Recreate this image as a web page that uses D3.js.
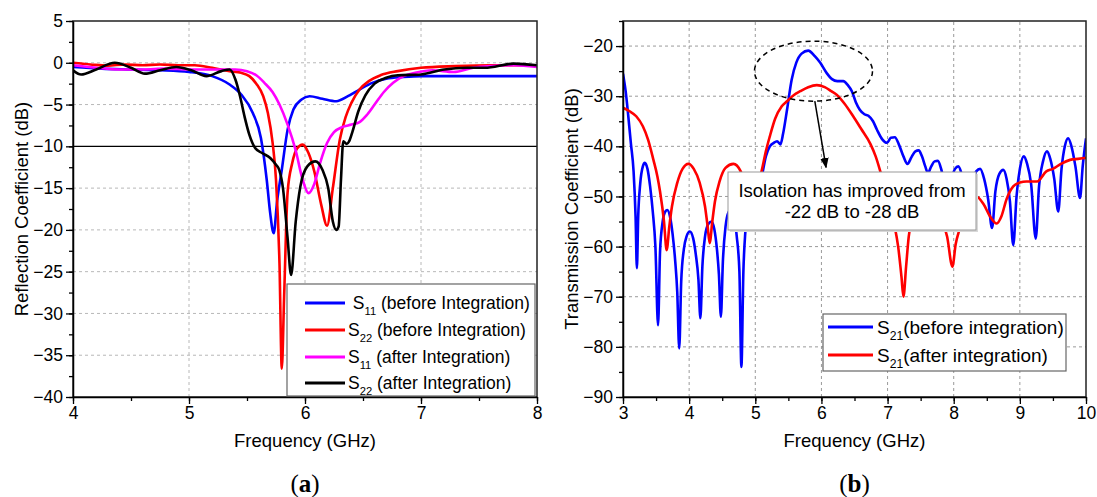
<!DOCTYPE html>
<html>
<head>
<meta charset="utf-8">
<script src="https://cdn.jsdelivr.net/npm/d3@7"></script>
<style>
  body { margin: 0; background: #fff; }
  svg { display: block; }
  text { font-family: Arial, "Liberation Sans", sans-serif; fill: #000; }
  text.panel-letter { font-family: "Liberation Serif", "DejaVu Serif", serif; }
</style>
</head>
<body>
<svg id="chart" width="1097" height="497"></svg>
<script>
// ---------- (a) reflection coefficients, [GHz, dB] ----------
const s11Before = [[4.0,-0.5],[4.25,-0.7],[4.5,-0.8],[4.75,-0.9],[5.0,-1.1],[5.2,-1.6],[5.35,-2.6],[5.45,-3.8],[5.55,-6.0],[5.62,-9.0],[5.67,-14],[5.70,-18],[5.73,-20.4],[5.76,-16.5],[5.80,-12.8],[5.85,-8.0],[5.90,-5.6],[5.97,-4.4],[6.04,-4.0],[6.15,-4.3],[6.27,-4.6],[6.37,-4.0],[6.47,-3.2],[6.58,-2.4],[6.7,-1.9],[6.85,-1.7],[7.0,-1.6],[7.5,-1.6],[8.0,-1.6]];
const s22Before = [[4.0,0.0],[4.15,-0.2],[4.3,-0.35],[4.45,-0.2],[4.6,-0.3],[4.75,-0.2],[4.9,-0.3],[5.05,-0.3],[5.2,-0.6],[5.35,-1.0],[5.45,-1.2],[5.52,-1.6],[5.58,-2.5],[5.64,-4.0],[5.68,-6.0],[5.72,-9.5],[5.75,-14],[5.78,-24],[5.80,-36.6],[5.82,-28],[5.85,-15.5],[5.89,-12],[5.93,-10.3],[5.98,-9.8],[6.03,-10.8],[6.08,-13],[6.14,-17],[6.19,-19.5],[6.24,-15],[6.30,-9.2],[6.35,-6.5],[6.40,-4.8],[6.47,-3.2],[6.55,-2.2],[6.65,-1.5],[6.8,-1.0],[7.0,-0.6],[7.3,-0.4],[7.6,-0.3],[8.0,-0.3]];
const s11After = [[4.0,-0.3],[4.2,-0.6],[4.4,-0.8],[4.6,-0.8],[4.8,-0.7],[5.0,-0.8],[5.2,-0.8],[5.4,-0.8],[5.5,-1.0],[5.58,-1.5],[5.65,-2.4],[5.72,-3.5],[5.78,-5.0],[5.85,-7.4],[5.92,-10.5],[5.98,-14],[6.03,-15.6],[6.08,-14.5],[6.13,-12],[6.19,-9.6],[6.25,-8.3],[6.32,-7.7],[6.40,-7.4],[6.47,-7.1],[6.53,-6.3],[6.60,-5.0],[6.68,-3.5],[6.76,-2.4],[6.85,-1.6],[6.95,-1.2],[7.1,-0.9],[7.28,-1.1],[7.45,-0.6],[7.6,-0.4],[7.8,-0.3],[8.0,-0.5]];
const s22After = [[4.0,-0.9],[4.07,-1.4],[4.2,-0.8],[4.36,0.0],[4.5,-0.6],[4.62,-1.3],[4.75,-0.9],[4.89,-0.5],[5.02,-0.9],[5.15,-1.6],[5.28,-1.0],[5.35,-0.8],[5.40,-2.0],[5.44,-4.0],[5.48,-6.5],[5.52,-8.6],[5.57,-10.2],[5.63,-10.8],[5.70,-11.4],[5.75,-12.2],[5.78,-12.9],[5.81,-15],[5.85,-21],[5.88,-25.4],[5.92,-19],[5.96,-14.8],[6.02,-12.4],[6.09,-11.8],[6.15,-12.8],[6.20,-15],[6.24,-19],[6.27,-20.0],[6.29,-19.6],[6.31,-14],[6.33,-9.4],[6.36,-9.7],[6.38,-9.4],[6.41,-8.2],[6.46,-5.8],[6.52,-3.9],[6.6,-2.5],[6.7,-1.8],[6.8,-1.5],[7.0,-1.4],[7.2,-0.8],[7.4,-0.6],[7.55,-0.6],[7.8,-0.1],[8.0,-0.3]];

// ---------- (b) transmission coefficient, [GHz, dB] ----------
const s21Before = [[3.0,-25.5],[3.04,-29],[3.08,-34],[3.12,-39.5],[3.16,-45],[3.19,-54],[3.21,-64.3],[3.23,-54],[3.26,-47.5],[3.30,-44],[3.33,-43.3],[3.37,-44.5],[3.41,-48],[3.45,-53],[3.49,-60],[3.53,-75.7],[3.56,-61],[3.60,-55],[3.64,-53],[3.67,-52.7],[3.71,-54],[3.75,-57.5],[3.79,-63],[3.82,-69],[3.85,-80.3],[3.88,-67],[3.92,-60.5],[3.96,-58],[4.01,-57],[4.06,-58.3],[4.10,-61.5],[4.14,-66.5],[4.17,-74.3],[4.20,-64],[4.24,-58],[4.29,-55.5],[4.34,-55],[4.38,-56.5],[4.42,-60.5],[4.45,-65.5],[4.48,-74],[4.51,-63],[4.55,-56],[4.60,-53],[4.64,-52.5],[4.68,-54],[4.72,-58],[4.76,-65],[4.79,-84],[4.82,-65],[4.85,-57],[4.90,-52],[4.97,-50],[5.04,-50],[5.10,-46],[5.16,-42],[5.22,-40],[5.28,-39.3],[5.33,-39],[5.38,-39.6],[5.42,-37.5],[5.48,-32.7],[5.55,-26.7],[5.62,-23.3],[5.70,-21.5],[5.80,-20.9],[5.90,-22],[5.98,-23.3],[6.08,-25.4],[6.16,-26.6],[6.24,-27],[6.33,-27],[6.40,-27.8],[6.46,-29],[6.52,-31.2],[6.58,-32.7],[6.65,-33.6],[6.71,-33.9],[6.78,-35],[6.84,-36.7],[6.92,-38.6],[6.99,-39.3],[7.05,-38.3],[7.11,-38.2],[7.17,-39.6],[7.24,-42],[7.30,-43.5],[7.36,-42.2],[7.42,-41],[7.47,-40.8],[7.52,-42],[7.57,-44],[7.61,-45.3],[7.66,-44],[7.71,-43],[7.76,-42.9],[7.81,-44.5],[7.86,-47.5],[7.92,-50],[7.97,-46.5],[8.02,-44.5],[8.07,-44],[8.12,-45.5],[8.18,-49],[8.23,-53],[8.28,-48],[8.34,-45],[8.40,-44.5],[8.46,-46.5],[8.52,-50.5],[8.58,-56.3],[8.63,-49],[8.69,-45.5],[8.75,-44.7],[8.80,-46.5],[8.85,-51],[8.90,-59.7],[8.95,-50],[9.00,-44.5],[9.06,-42],[9.11,-43.5],[9.17,-47.5],[9.24,-58.4],[9.29,-48],[9.35,-43],[9.41,-41],[9.46,-42.5],[9.52,-46.5],[9.58,-53],[9.63,-44.5],[9.68,-40],[9.73,-38.4],[9.78,-40],[9.84,-44],[9.91,-50.3],[9.95,-44],[10.0,-38.4]];
const s21After = [[3.0,-32.3],[3.1,-33],[3.2,-34],[3.3,-36],[3.38,-38.7],[3.46,-42.7],[3.52,-46],[3.56,-49],[3.62,-55],[3.66,-60.7],[3.70,-56],[3.74,-52],[3.82,-47.3],[3.90,-44.5],[3.99,-43.5],[4.07,-44.5],[4.16,-47.3],[4.24,-52],[4.28,-56],[4.31,-59.3],[4.35,-55],[4.39,-51],[4.46,-47],[4.55,-44.3],[4.67,-43.5],[4.78,-45],[4.85,-49],[4.91,-53],[4.95,-54],[4.99,-52],[5.05,-47.5],[5.10,-44.7],[5.16,-41],[5.22,-38],[5.30,-34.5],[5.40,-32],[5.48,-31],[5.58,-29.8],[5.68,-29],[5.80,-28.2],[5.93,-27.8],[6.05,-28.2],[6.15,-29],[6.23,-29.7],[6.35,-31.5],[6.48,-34],[6.60,-36.5],[6.74,-39.5],[6.82,-42],[6.89,-45],[6.96,-48.5],[7.04,-52],[7.10,-55.5],[7.16,-60],[7.21,-66],[7.24,-70],[7.28,-64],[7.32,-58],[7.38,-54],[7.47,-50],[7.58,-48.5],[7.68,-50],[7.77,-53],[7.84,-55.5],[7.90,-58],[7.98,-64],[8.03,-59.5],[8.09,-56.5],[8.20,-52],[8.34,-50],[8.45,-51.5],[8.55,-54],[8.65,-55.4],[8.72,-54],[8.80,-50.5],[8.90,-48],[9.00,-47.2],[9.10,-47],[9.26,-47],[9.40,-45],[9.50,-44.5],[9.62,-43.5],[9.76,-42.7],[9.88,-42.5],[10.0,-42.3]];

// ---------- ticks & labels ----------
const reflTicksY = [5, 0, -5, -10, -15, -20, -25, -30, -35, -40];
const reflTicksX = [4, 5, 6, 7, 8];
const transTicksY = [-20, -30, -40, -50, -60, -70, -80, -90];
const transTicksX = [3, 4, 5, 6, 7, 8, 9, 10];
const reflLegend = [
  { sub: "11", rest: " (before Integration)", lead: " " },
  { sub: "22", rest: " (before Integration)", lead: "" },
  { sub: "11", rest: " (after Integration)", lead: "" },
  { sub: "22", rest: " (after Integration)", lead: "" }
];
const transLegend = [
  { sub: "21", rest: "(before integration)", lead: "" },
  { sub: "21", rest: "(after integration)", lead: "" }
];
const noteLines = ["Isolation has improved from", "-22 dB to -28 dB"];

const svg = d3.select("#chart");
const defs = svg.append("defs");
defs.append("marker").attr("id", "arrowHead")
  .attr("viewBox", "0 0 10 10").attr("refX", 9).attr("refY", 5)
  .attr("markerWidth", 7).attr("markerHeight", 7).attr("orient", "auto")
  .append("path").attr("d", "M0,1 L10,5 L0,9 Z").attr("fill", "#000");

function drawPanel(p) {
  const x = d3.scaleLinear(p.xDomain, p.xRange);
  const y = d3.scaleLinear(p.yDomain, p.yRange);
  const g = svg.append("g");
  const [x0, x1] = p.xRange, [yb, yt] = p.yRange;

  // dashed grid
  const grid = g.append("g").attr("stroke", p.gridColor).attr("stroke-width", 1).attr("stroke-dasharray", "3,3");
  p.xTicks.filter(v => v > p.xDomain[0] && v < p.xDomain[1]).forEach(v =>
    grid.append("line").attr("x1", x(v)).attr("x2", x(v)).attr("y1", yb).attr("y2", yt));
  p.yTicks.filter(v => v > p.yDomain[0] && v < p.yDomain[1] && !(p.refLine === v)).forEach(v =>
    grid.append("line").attr("x1", x0).attr("x2", x1).attr("y1", y(v)).attr("y2", y(v)));

  if (p.refLine !== undefined) {
    g.append("line").attr("x1", x0).attr("x2", x1).attr("y1", y(p.refLine)).attr("y2", y(p.refLine))
      .attr("stroke", "#000").attr("stroke-width", 1.3);
  }

  // curves
  const clipId = "clip" + p.id;
  defs.append("clipPath").attr("id", clipId).append("rect")
    .attr("x", x0).attr("y", yt).attr("width", x1 - x0).attr("height", yb - yt);
  const line = d3.line().x(d => x(d[0])).y(d => y(d[1])).curve(d3.curveMonotoneX);
  const curves = g.append("g").attr("clip-path", `url(#${clipId})`);
  p.series.forEach(s => curves.append("path").datum(s.data).attr("d", line)
    .attr("fill", "none").attr("stroke", s.color).attr("stroke-width", 2.6).attr("stroke-linejoin", "round"));

  // frame
  g.append("rect").attr("x", x0).attr("y", yt).attr("width", x1 - x0).attr("height", yb - yt)
    .attr("fill", "none").attr("stroke", "#222").attr("stroke-width", 1.5);

  // axes: minor then major
  const minorX = d3.range(p.xDomain[0], p.xDomain[1] + 1e-9, p.xMinor);
  const minorY = d3.range(p.yDomain[0], p.yDomain[1] + 1e-9, p.yMinor);
  g.append("g").attr("transform", `translate(0,${yb})`)
    .call(d3.axisBottom(x).tickValues(minorX).tickSize(4).tickFormat("").tickSizeOuter(0))
    .call(a => a.select(".domain").remove());
  g.append("g").attr("transform", `translate(${x0},0)`)
    .call(d3.axisLeft(y).tickValues(minorY).tickSize(4).tickFormat("").tickSizeOuter(0))
    .call(a => a.select(".domain").remove());
  const ax = g.append("g").attr("transform", `translate(0,${yb})`)
    .call(d3.axisBottom(x).tickValues(p.xTicks).tickSize(7).tickPadding(3).tickSizeOuter(0).tickFormat(d3.format("d")));
  const ay = g.append("g").attr("transform", `translate(${x0},0)`)
    .call(d3.axisLeft(y).tickValues(p.yTicks).tickSize(7).tickPadding(3).tickSizeOuter(0).tickFormat(d3.format("d")));
  [ax, ay].forEach(a => {
    a.select(".domain").attr("stroke", "#000").attr("stroke-width", 1.5);
    a.selectAll(".tick text").attr("font-size", 17.5).attr("fill", "#111");
  });
  g.selectAll(".tick line").attr("stroke", "#000").attr("stroke-width", 1.3);

  // axis titles
  g.append("text").attr("x", (x0 + x1) / 2).attr("y", 447).attr("text-anchor", "middle")
    .attr("font-size", 18.5).text("Frequency (GHz)");
  g.append("text").attr("transform", `translate(${p.yTitleX},${(yb + yt) / 2}) rotate(-90)`)
    .attr("text-anchor", "middle").attr("font-size", 18.5).text(p.yTitle);

  // panel letter
  const pl = g.append("text").attr("class", "panel-letter").attr("x", (x0 + x1) / 2).attr("y", 492)
    .attr("text-anchor", "middle").attr("font-size", 25);
  pl.append("tspan").text("(");
  pl.append("tspan").attr("font-weight", "bold").text(p.letter);
  pl.append("tspan").text(")");

  // legend
  const L = p.legend;
  const lg = g.append("g");
  lg.append("rect").attr("x", L.x).attr("y", L.y).attr("width", L.w).attr("height", L.h)
    .attr("fill", "#fff").attr("stroke", "#666").attr("stroke-width", 1.2);
  L.items.forEach((it, i) => {
    const cy = L.rows[i];
    lg.append("line").attr("x1", L.lx1).attr("x2", L.lx2).attr("y1", cy).attr("y2", cy)
      .attr("stroke", p.series[i].color).attr("stroke-width", 2.8);
    const t = lg.append("text").attr("x", L.tx).attr("y", cy + L.fs * 0.36)
      .attr("font-size", L.fs).attr("xml:space", "preserve");
    t.append("tspan").text(it.lead + "S");
    t.append("tspan").attr("dy", L.fs * 0.3).attr("font-size", L.fs * 0.64).text(it.sub);
    t.append("tspan").attr("dy", -L.fs * 0.3).text(it.rest);
  });
  return { x, y, g };
}

drawPanel({
  id: "a", letter: "a",
  xDomain: [4, 8], xRange: [73, 537], yDomain: [-40, 5], yRange: [397, 21],
  xTicks: reflTicksX, yTicks: reflTicksY, xMinor: 0.5, yMinor: 2.5,
  gridColor: "#b8b8b8", refLine: -10,
  yTitle: "Reflection Coefficient (dB)", yTitleX: 28,
  series: [
    { data: s11Before, color: "#0000ff" },
    { data: s22Before, color: "#ff0000" },
    { data: s11After, color: "#ff00ff" },
    { data: s22After, color: "#000000" }
  ],
  legend: { x: 287, y: 284, w: 248, h: 112, lx1: 305, lx2: 345, tx: 348, fs: 17.5,
            rows: [303, 330, 357, 383], items: reflLegend }
});

const b = drawPanel({
  id: "b", letter: "b",
  xDomain: [3, 10], xRange: [623, 1086], yDomain: [-90, -15], yRange: [397, 21],
  xTicks: transTicksX, yTicks: transTicksY, xMinor: 0.5, yMinor: 5,
  gridColor: "#9a9a9a",
  yTitle: "Transmission Coefficient (dB)", yTitleX: 578,
  series: [
    { data: s21Before, color: "#0000ff" },
    { data: s21After, color: "#ff0000" }
  ],
  legend: { x: 823, y: 314, w: 243, h: 57, lx1: 828, lx2: 873, tx: 877, fs: 19,
            rows: [327, 355], items: transLegend }
});

// highlight of the peak region and its note
const peakF = 5.88, peakDb = -25;
b.g.append("ellipse").attr("cx", b.x(peakF)).attr("cy", b.y(peakDb))
  .attr("rx", 59).attr("ry", 30).attr("fill", "none")
  .attr("stroke", "#000").attr("stroke-width", 1.5).attr("stroke-dasharray", "5,4");
b.g.append("line").attr("x1", b.x(5.9)).attr("y1", b.y(-31)).attr("x2", b.x(6.07)).attr("y2", b.y(-44.2))
  .attr("stroke", "#000").attr("stroke-width", 1.5).attr("marker-end", "url(#arrowHead)");
const note = b.g.append("g");
note.append("rect").attr("x", 730).attr("y", 174).attr("width", 248).attr("height", 58).attr("fill", "#d8d8d8");
note.append("rect").attr("x", 728).attr("y", 172).attr("width", 248).attr("height", 58)
  .attr("fill", "#fff").attr("stroke", "#999").attr("stroke-width", 1);
noteLines.forEach((s, i) => note.append("text").attr("x", 852).attr("y", 197 + i * 21)
  .attr("text-anchor", "middle").attr("font-size", 18.5).text(s));
</script>
</body>
</html>
